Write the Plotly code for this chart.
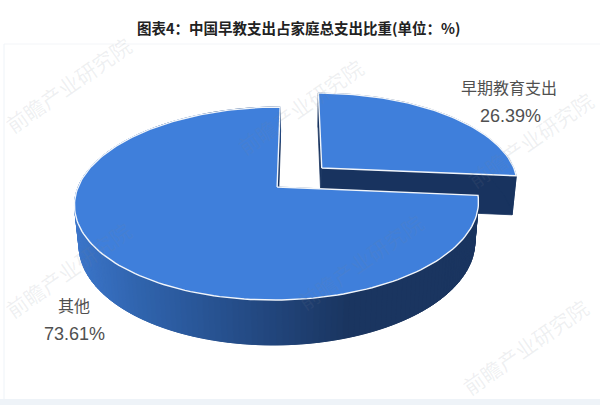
import math
import plotly.graph_objects as go

# --- data -------------------------------------------------------------
categories = ["早期教育支出", "其他"]
values = [26.39, 73.61]
value_labels = ["26.39%", "73.61%"]
title_text = "图表4：中国早教支出占家庭总支出比重(单位：%)"
watermark_text = "前瞻产业研究院"

# --- view of the tilted disc ------------------------------------------
VX, CY = 298.0, 187.0      # vanishing x, screen position of pie plane centre
A, B = 199.0, 93.7         # horizontal / vertical radius
K = 0.171                  # perspective strength
X0 = -0.105                # pie centre offset from the view axis
DEPTH_Y, DEPTH_S = 40.4, 0.02
EXPLODE = 0.31

TOP = "#3f7fdb"
DARK = "#18335f"
EDGE = "#f2f6fb"
GRAD = [(75, (60, 118, 202)), (140, (48, 100, 174)), (210, (40, 84, 148)),
        (280, (33, 68, 122)), (350, (26, 53, 96)), (600, (26, 53, 96))]


def project(x, y, low=False):
    h = 1.0 if low else 0.0
    s = 1.0 / (1.0 - K * y + DEPTH_S * h)
    return VX + A * (x + X0) * s, CY + (B * y + DEPTH_Y * h) * s


def rim(t):
    # t: clockwise angle from twelve o'clock, degrees
    r = math.radians(t)
    return math.sin(r), -math.cos(r)


def grad_colour(px):
    for (x0, c0), (x1, c1) in zip(GRAD, GRAD[1:]):
        if px <= x1:
            f = max(0.0, (px - x0) / (x1 - x0))
            return "rgb(%d,%d,%d)" % tuple(round(a + (b - a) * f) for a, b in zip(c0, c1))
    return "rgb(26,53,96)"


fig = go.Figure()


def poly(pts, fill, line=None, width=0.0):
    fig.add_trace(go.Scatter(
        x=[p[0] for p in pts] + [pts[0][0]],
        y=[p[1] for p in pts] + [pts[0][1]],
        mode="lines", fill="toself", fillcolor=fill,
        line=dict(color=line or fill, width=width if line else 0.8),
        hoverinfo="skip", showlegend=False))


def draw_slice(start, end, ox, oy, shaded):
    n = max(8, int((end - start) / 1.5))
    ts = [start + (end - start) * i / n for i in range(n + 1)]

    def P(t, low=False):
        x, y = rim(t)
        return project(x + ox, y + oy, low)

    apex_t = project(ox, oy)
    apex_b = project(ox, oy, True)
    # cut faces
    poly([apex_t, P(start), P(start, True), apex_b], DARK)
    poly([apex_t, P(end), P(end, True), apex_b], DARK)
    # outer wall: strips overlap their neighbour so no seams show
    if shaded:
        for a, b in zip(ts, ts[2:] + [ts[-1]]):
            q = [P(a), P(b), P(b, True), P(a, True)]
            poly(q, grad_colour((q[0][0] + q[3][0]) / 2))
    else:
        poly([P(t) for t in ts] + [P(t, True) for t in reversed(ts)], DARK)
    # top face
    poly([apex_t] + [P(t) for t in ts], TOP, EDGE, 1.4)


total = sum(values)
sweep0 = 360.0 * values[0] / total
mid = math.radians(sweep0 / 2)
draw_slice(0.0, sweep0, EXPLODE * math.sin(mid), -EXPLODE * math.cos(mid), False)
draw_slice(sweep0, 360.0, 0.0, 0.0, True)

WM = "rgba(120,130,145,0.12)"
ann = []
for wx, wy in [(68, 85), (300, 107), (530, 140), (68, 270), (360, 262), (525, 347)]:
    ann.append(dict(x=wx, y=wy, text=watermark_text, showarrow=False, textangle=-35,
                    font=dict(family="Noto Sans CJK SC", size=21, color=WM)))

ann.append(dict(x=298, y=27, text=f"<b>{title_text}</b>", showarrow=False,
                font=dict(family="Noto Sans CJK SC", size=14.5, color="#222222")))
LAB = "#505050"
ann.append(dict(x=509, y=87, text=categories[0], showarrow=False,
                font=dict(family="Noto Sans CJK SC", size=16, color=LAB)))
ann.append(dict(x=510, y=116, text=value_labels[0], showarrow=False,
                font=dict(family="Liberation Sans", size=18, color=LAB)))
ann.append(dict(x=74, y=305, text=categories[1], showarrow=False,
                font=dict(family="Noto Sans CJK SC", size=16, color=LAB)))
ann.append(dict(x=74, y=334, text=value_labels[1], showarrow=False,
                font=dict(family="Liberation Sans", size=18, color=LAB)))

frame = "#eef3f8"
shapes = [
    dict(type="line", x0=4, x1=600, y0=44, y1=44, line=dict(color="#f3f5f8", width=1), layer="below"),
    dict(type="line", x0=4, x1=4, y0=44, y1=400, line=dict(color=frame, width=1), layer="below"),
    dict(type="rect", x0=0, x1=600, y0=399, y1=405, fillcolor=frame, line=dict(width=0), layer="below"),
]

fig.update_layout(
    width=600, height=405, autosize=False,
    margin=dict(l=0, r=0, t=0, b=0),
    paper_bgcolor="white", plot_bgcolor="white",
    xaxis=dict(range=[0, 600], visible=False, fixedrange=True),
    yaxis=dict(range=[405, 0], visible=False, fixedrange=True),
    annotations=ann, shapes=shapes, showlegend=False,
)
fig.write_html("out.html", config=dict(displayModeBar=False),
               post_script="document.body.style.margin='0';document.body.style.overflow='hidden';")
